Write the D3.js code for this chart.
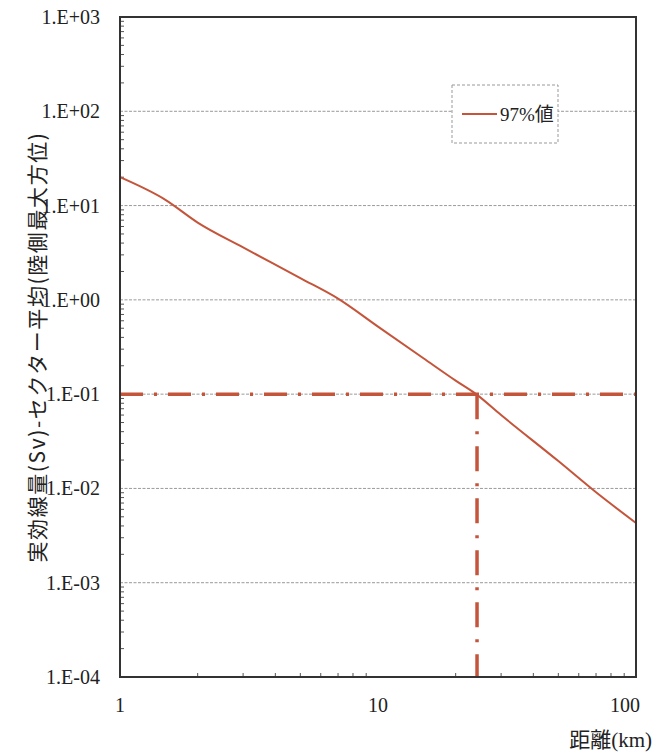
<!DOCTYPE html>
<html>
<head>
<meta charset="utf-8">
<script src="https://cdn.jsdelivr.net/npm/d3@7"></script>
<style>
  body { margin: 0; background: #fff; }
  svg { display: block; }
</style>
</head>
<body>
<svg id="chart" width="660" height="753"></svg>
<script>
// --- Data ---
const distances = [1, 1.5, 2, 3, 5, 7, 10, 15, 20, 24, 30, 50, 70, 100];
const dose97 = [20, 11.5, 6.6, 3.6, 1.7, 1.03, 0.52, 0.24, 0.139, 0.1, 0.06, 0.0195, 0.0091, 0.0043];
const thresholdDose = 0.1;
const thresholdDist = 24.2;
const yTicks = [1e3, 1e2, 1e1, 1e0, 1e-1, 1e-2, 1e-3, 1e-4];
const yTickLabels = ["1.E+03", "1.E+02", "1.E+01", "1.E+00", "1.E-01", "1.E-02", "1.E-03", "1.E-04"];
const xTicks = [1, 10, 100];
const xTickLabels = ["1", "10", "100"];
const seriesName = "97%値";
const yTitle = "実効線量(Sv)-セクター平均(陸側最大方位)";
const xTitle = "距離(km)";

// --- Layout ---
const plotLeft = 120, plotRight = 636, plotTop = 17, plotBottom = 677;
const red = "#c4553b";
const serif = "'Liberation Serif', 'DejaVu Serif', 'Noto Sans CJK JP', serif";

const svg = d3.select("#chart");
const x = d3.scaleLog().domain([1, 100]).range([plotLeft, plotRight]);
const y = d3.scaleLog().domain([1e-4, 1e3]).range([plotBottom, plotTop]);

// gridlines
svg.append("g")
  .selectAll("line")
  .data(yTicks.slice(1, -1))
  .join("line")
  .attr("x1", plotLeft).attr("x2", plotRight)
  .attr("y1", (d) => y(d)).attr("y2", (d) => y(d))
  .attr("stroke", "#9a9a9a")
  .attr("stroke-width", 1)
  .attr("stroke-dasharray", "3,1.5");

// minor ticks (inside)
const minorY = [];
for (let e = -4; e < 3; e++) for (let m = 2; m <= 9; m++) minorY.push(m * Math.pow(10, e));
svg.append("g")
  .selectAll("line")
  .data(minorY)
  .join("line")
  .attr("x1", plotLeft).attr("x2", plotLeft + 4)
  .attr("y1", (d) => y(d)).attr("y2", (d) => y(d))
  .attr("stroke", "#555").attr("stroke-width", 1);

const minorX = [];
for (let e = 0; e < 2; e++) for (let m = 2; m <= 9; m++) minorX.push(m * Math.pow(10, e));
svg.append("g")
  .selectAll("line")
  .data(minorX)
  .join("line")
  .attr("x1", (d) => x(d)).attr("x2", (d) => x(d))
  .attr("y1", plotBottom).attr("y2", plotBottom - 4)
  .attr("stroke", "#555").attr("stroke-width", 1);

// threshold lines
svg.append("line")
  .attr("x1", plotLeft).attr("x2", plotRight)
  .attr("y1", y(thresholdDose)).attr("y2", y(thresholdDose))
  .attr("stroke", red).attr("stroke-width", 3.5)
  .attr("stroke-dasharray", "23,11,3,11");
svg.append("line")
  .attr("x1", x(thresholdDist)).attr("x2", x(thresholdDist))
  .attr("y1", y(thresholdDose)).attr("y2", plotBottom)
  .attr("stroke", red).attr("stroke-width", 3.5)
  .attr("stroke-dasharray", "25,12,3,12");

// curve
svg.append("path")
  .datum(distances.map((d, i) => [d, dose97[i]]))
  .attr("fill", "none")
  .attr("stroke", red)
  .attr("stroke-width", 2)
  .attr("d", d3.line().x((d) => x(d[0])).y((d) => y(d[1])).curve(d3.curveMonotoneX));

// frame
svg.append("rect")
  .attr("x", plotLeft).attr("y", plotTop)
  .attr("width", plotRight - plotLeft).attr("height", plotBottom - plotTop)
  .attr("fill", "none").attr("stroke", "#333").attr("stroke-width", 2);

// y tick labels
svg.append("g")
  .selectAll("text")
  .data(yTicks)
  .join("text")
  .attr("x", plotLeft - 20)
  .attr("y", (d) => y(d))
  .attr("dy", "0.35em")
  .attr("text-anchor", "end")
  .attr("font-family", serif)
  .attr("font-size", 20)
  .attr("fill", "#222")
  .text((d, i) => yTickLabels[i]);

// x tick labels
svg.append("g")
  .selectAll("text")
  .data(xTicks)
  .join("text")
  .attr("x", (d, i) => (i === xTicks.length - 1 ? x(d) + 4 : x(d)))
  .attr("y", 712)
  .attr("text-anchor", (d, i) => (i === xTicks.length - 1 ? "end" : "middle"))
  .attr("font-family", serif)
  .attr("font-size", 20)
  .attr("fill", "#222")
  .text((d, i) => xTickLabels[i]);

// axis titles
svg.append("text")
  .attr("transform", "translate(45,347) rotate(-90)")
  .attr("text-anchor", "middle")
  .attr("font-family", "'Noto Sans CJK JP', sans-serif")
  .attr("font-size", 21)
  .attr("letter-spacing", 1.6)
  .attr("fill", "#222")
  .text(yTitle);

svg.append("text")
  .attr("x", 652)
  .attr("y", 747)
  .attr("text-anchor", "end")
  .attr("font-family", serif)
  .attr("font-size", 21)
  .attr("fill", "#222")
  .text(xTitle);

// legend
const lg = svg.append("g").attr("transform", "translate(452,85)");
lg.append("rect")
  .attr("width", 106).attr("height", 58)
  .attr("fill", "#fff")
  .attr("stroke", "#999").attr("stroke-dasharray", "3,2");
lg.append("line")
  .attr("x1", 10).attr("x2", 45)
  .attr("y1", 29).attr("y2", 29)
  .attr("stroke", red).attr("stroke-width", 2);
lg.append("text")
  .attr("x", 48).attr("y", 29)
  .attr("dy", "0.35em")
  .attr("font-family", serif)
  .attr("font-size", 19)
  .attr("fill", "#222")
  .text(seriesName);
</script>
</body>
</html>
